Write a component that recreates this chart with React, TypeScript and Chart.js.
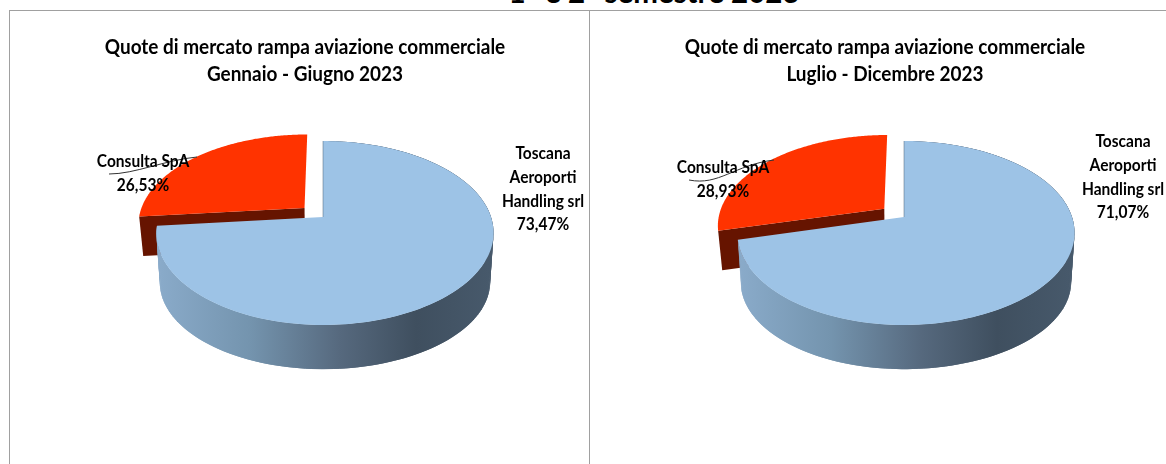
import React, { useEffect, useRef } from "react";
import { Chart, registerables } from "chart.js";

Chart.register(...registerables);

const sliceNames = ["Toscana Aeroporti Handling srl", "Consulta SpA"];
const firstHalfValues = [73.47, 26.53];
const secondHalfValues = [71.07, 28.93];
const sliceColors = ["#9dc3e6", "#ff3300"];
const firstHalfTitle = ["Quote di mercato rampa aviazione commerciale", "Gennaio - Giugno 2023"];
const secondHalfTitle = ["Quote di mercato rampa aviazione commerciale", "Luglio - Dicembre 2023"];
const pageTitle = "1° e 2° semestre 2023";
const FONT = "Lato";

type Cfg = {
  cx: number; cy: number; labelA: { x: number; y: number; lines: string[] };
  labelB: { x: number; y: number; lines: string[] };
  leader: number[];
};

const A = 166, B = 89.2, K = 0.174, EXPLODE = 0.153, WIDEN = 2;

function project(c: Cfg, u: number, v: number, widen = 0) {
  const w = 1 + K * v;
  return { x: c.cx + (A * u) / w + widen * Math.abs(u), y: c.cy - (B * v) / w };
}
function lowerBlue(c: Cfg, p: { x: number; y: number }) {
  return { x: c.cx + 1 + (p.x - c.cx - 1) * 0.98, y: c.cy + 50 + (p.y - c.cy) * 0.946 };
}
function lowerRed(c: Cfg, p: { x: number; y: number }) {
  return { x: c.cx + (p.x - c.cx) * 0.978, y: p.y + 39.5 };
}

const pie3d = {
  id: "pie3d",
  beforeDraw(chart: any) {
    const ctx: CanvasRenderingContext2D = chart.ctx;
    const mid = chart.width / 2;
    ctx.save();
    ctx.translate(mid, 0);
    ctx.scale(0.948, 1);
    ctx.translate(-mid, 0);
  },
  beforeDatasetsDraw(chart: any) {
    chart.ctx.restore();
  },
  beforeDatasetDraw(chart: any, _args: any, opts: Cfg) {
    const ctx: CanvasRenderingContext2D = chart.ctx;
    const arcs = chart.getDatasetMeta(0).data;
    const colors = chart.data.datasets[0].backgroundColor;
    const order = [1, 0];
    for (const i of order) {
      const arc = arcs[i];
      const start = arc.startAngle, end = arc.endAngle;
      const mid = (start + end) / 2;
      const d = i === 1 ? EXPLODE : 0;
      const widen = i === 0 ? WIDEN : 0;
      const ox = d * Math.cos(mid), oy = -d * Math.sin(mid);
      const apex = project(opts, ox, oy, widen);
      const rim: { x: number; y: number }[] = [];
      const n = 160;
      for (let j = 0; j <= n; j++) {
        const a = start + ((end - start) * j) / n;
        rim.push(project(opts, ox + Math.cos(a), oy - Math.sin(a), widen));
      }
      if (i === 1) {
        const tip = rim[0];
        const a2 = lowerRed(opts, apex), t2 = lowerRed(opts, tip);
        ctx.beginPath();
        ctx.moveTo(apex.x, apex.y);
        ctx.lineTo(tip.x, tip.y);
        ctx.lineTo(t2.x, t2.y);
        ctx.lineTo(a2.x, a2.y);
        ctx.closePath();
        ctx.fillStyle = "#661400";
        ctx.fill();
      } else {
        const g = ctx.createLinearGradient(opts.cx - A, 0, opts.cx + A, 0);
        g.addColorStop(0, "#8aabca");
        g.addColorStop(0.28, "#7494ae");
        g.addColorStop(0.55, "#56697e");
        g.addColorStop(0.78, "#3f4f5f");
        g.addColorStop(1, "#47596b");
        ctx.fillStyle = g;
        for (let j = 0; j < rim.length - 2; j++) {
          const p = rim[j], r = rim[j + 2];
          const q1 = lowerBlue(opts, r), q2 = lowerBlue(opts, p);
          ctx.beginPath();
          ctx.moveTo(p.x, p.y);
          ctx.lineTo(r.x, r.y);
          ctx.lineTo(q1.x, q1.y);
          ctx.lineTo(q2.x, q2.y);
          ctx.closePath();
          ctx.fill();
        }
      }
      ctx.beginPath();
      ctx.moveTo(apex.x, apex.y);
      rim.forEach((p) => ctx.lineTo(p.x, p.y));
      ctx.closePath();
      ctx.fillStyle = colors[i];
      ctx.fill();
      if (i === 0) {
        const top = rim[0];
        ctx.beginPath();
        ctx.moveTo(top.x, top.y);
        ctx.lineTo(apex.x, apex.y);
        ctx.strokeStyle = "rgba(80,100,120,0.5)";
        ctx.lineWidth = 1;
        ctx.stroke();
      }
    }
    return false;
  },
  afterDatasetsDraw(chart: any, _args: any, opts: Cfg) {
    const ctx: CanvasRenderingContext2D = chart.ctx;
    const l = opts.leader;
    ctx.beginPath();
    ctx.moveTo(l[0], l[1]);
    ctx.bezierCurveTo(l[2], l[3], l[4], l[5], l[6], l[7]);
    ctx.strokeStyle = "#333";
    ctx.lineWidth = 1;
    ctx.stroke();
    ctx.fillStyle = "#000";
    ctx.font = `bold 16.5px ${FONT}`;
    ctx.textAlign = "center";
    ctx.textBaseline = "middle";
    for (const lab of [opts.labelA, opts.labelB]) {
      lab.lines.forEach((t, i) => {
        ctx.save();
        ctx.translate(lab.x, lab.y + i * 23.6);
        ctx.scale(0.94, 1);
        ctx.fillText(t, 0, 0);
        ctx.restore();
      });
    }
  },
};

function Pie({ values, title, cfg, style }: { values: number[]; title: string[]; cfg: Cfg; style: React.CSSProperties }) {
  const ref = useRef<HTMLCanvasElement>(null);
  useEffect(() => {
    const chart = new Chart(ref.current!, {
      type: "pie",
      data: { labels: sliceNames, datasets: [{ data: values, backgroundColor: sliceColors, borderWidth: 0 }] },
      options: {
        animation: false,
        responsive: false,
        plugins: {
          legend: { display: false },
          tooltip: { enabled: false },
          title: {
            display: true,
            text: title,
            color: "#000",
            font: { family: FONT, size: 20, weight: "bold", lineHeight: 1.35 },
            padding: { top: 34, bottom: 0 },
          },
          pie3d: cfg,
        } as any,
      },
      plugins: [pie3d],
    } as any);
    return () => chart.destroy();
  }, []);
  return <canvas ref={ref} width={style.width as number} height={464} style={{ position: "absolute", top: 0, ...style }} />;
}

const leftCfg: Cfg = {
  cx: 323, cy: 217,
  labelA: { x: 543, y: 154, lines: ["Toscana", "Aeroporti", "Handling srl", firstHalfValues[0].toFixed(2).replace(".", ",") + "%"] },
  labelB: { x: 143, y: 162, lines: ["Consulta SpA", firstHalfValues[1].toFixed(2).replace(".", ",") + "%"] },
  leader: [109, 174, 135, 174, 165, 160, 197, 157],
};
const rightCfg: Cfg = {
  cx: 300, cy: 217,
  labelA: { x: 519, y: 142, lines: ["Toscana", "Aeroporti", "Handling srl", secondHalfValues[0].toFixed(2).replace(".", ",") + "%"] },
  labelB: { x: 119, y: 168, lines: ["Consulta SpA", secondHalfValues[1].toFixed(2).replace(".", ",") + "%"] },
  leader: [85, 180, 115, 186, 130, 165, 170, 160],
};

export default function App() {
  return (
    <div style={{ position: "fixed", left: 0, top: 0, width: 1166, height: 464, overflow: "hidden", background: "#fff" }}>
      <div style={{ position: "absolute", left: 354, width: 600, top: -25, textAlign: "center", fontFamily: FONT, fontWeight: 700, fontSize: 29.5, lineHeight: "34px", color: "#000" }}>
        {pageTitle}
      </div>
      <div style={{ position: "absolute", left: 9, top: 10, width: 1157, height: 1, background: "#a0a0a0" }} />
      <div style={{ position: "absolute", left: 9, top: 10, width: 1, height: 454, background: "#a0a0a0" }} />
      <div style={{ position: "absolute", left: 589, top: 10, width: 1, height: 454, background: "#a0a0a0" }} />
      <Pie values={firstHalfValues} title={firstHalfTitle} cfg={leftCfg} style={{ left: 0, width: 610 }} />
      <Pie values={secondHalfValues} title={secondHalfTitle} cfg={rightCfg} style={{ left: 604, width: 562 }} />
    </div>
  );
}
